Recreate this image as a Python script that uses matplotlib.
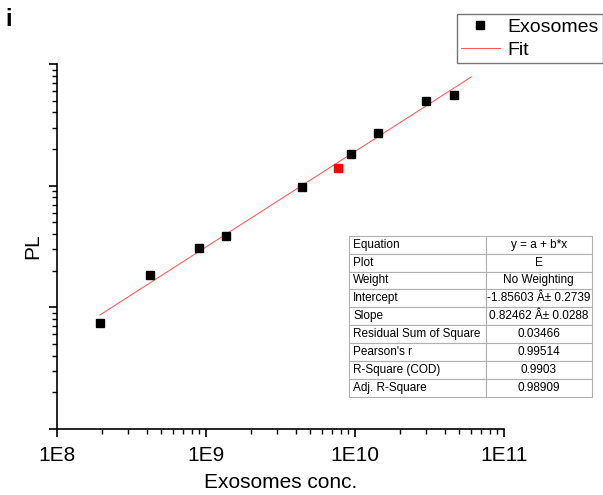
import numpy as np
import matplotlib.pyplot as plt
from matplotlib.ticker import LogLocator, NullFormatter

plt.rcParams['font.family'] = ['Liberation Sans', 'DejaVu Sans']

# measured samples (black) and the unknown sample (red)
conc = [1.93e8, 4.2e8, 8.9e8, 1.35e9, 4.4e9, 9.3e9, 1.43e10, 3.0e10, 4.6e10]
pl = [7.4e4, 1.84e5, 3.09e5, 3.83e5, 9.7e5, 1.81e6, 2.69e6, 4.95e6, 5.58e6]
unknown_conc = [7.65e9]
unknown_pl = [1.40e6]
fit_end = 6.0e10

xticks = [1e8, 1e9, 1e10, 1e11]
xticklabels = ['1E8', '1E9', '1E10', '1E11']

table_rows = [
    ['Equation', 'y = a + b*x'],
    ['Plot', 'E'],
    ['Weight', 'No Weighting'],
    ['Intercept', '-1.85603 Â± 0.2739'],
    ['Slope', '0.82462 Â± 0.0288'],
    ['Residual Sum of Square', '0.03466'],
    ["Pearson's r", '0.99514'],
    ['R-Square (COD)', '0.9903'],
    ['Adj. R-Square', '0.98909'],
]

fig = plt.figure(figsize=(6.03, 4.95), dpi=100)
ax = fig.add_axes([57.3 / 603, 66 / 495, 447 / 603, 365 / 495])
ax.set_xscale('log')
ax.set_yscale('log')
ax.set_xlim(1e8, 1e11)
ax.set_ylim(1e4, 1e7)

# linear fit in log-log space (black points only)
b, a = np.polyfit(np.log10(conc), np.log10(pl), 1)
xf = np.logspace(np.log10(conc[0]), np.log10(fit_end), 50)
fit_line, = ax.plot(xf, 10 ** (a + b * np.log10(xf)), color='#ff5a5a', lw=0.75, zorder=2)
pts, = ax.plot(conc, pl, 's', color='black', ms=6, zorder=3)
ax.plot(unknown_conc, unknown_pl, 's', color='red', ms=6, zorder=3)

for s in ['top', 'right']:
    ax.spines[s].set_visible(False)
for s in ['left', 'bottom']:
    ax.spines[s].set_linewidth(1.2)

ax.set_xticks(xticks)
ax.set_xticklabels(xticklabels)
ax.xaxis.set_minor_locator(LogLocator(base=10, subs=np.arange(2, 10)))
ax.xaxis.set_minor_formatter(NullFormatter())
ax.yaxis.set_major_locator(LogLocator(base=10))
ax.yaxis.set_minor_locator(LogLocator(base=10, subs=np.arange(2, 10)))
ax.yaxis.set_major_formatter(NullFormatter())
ax.yaxis.set_minor_formatter(NullFormatter())
ax.tick_params(which='major', direction='out', length=6, width=1.2, labelsize=15, pad=6)
ax.tick_params(which='minor', direction='out', length=3.5, width=1)

ax.set_xlabel('Exosomes conc.', fontsize=15, labelpad=6)
ax.set_ylabel('PL', fontsize=15, labelpad=-1)

leg = fig.legend([pts, fit_line], ['Exosomes', 'Fit'], loc='upper left',
                 bbox_to_anchor=(457 / 603, 1 - 14 / 495),
                 fontsize=14, frameon=True, fancybox=False, borderpad=0.2,
                 handlelength=2.0, handletextpad=0.4, labelspacing=0.3,
                 borderaxespad=0)
leg.get_frame().set_edgecolor('#555555')
leg.get_frame().set_linewidth(1)

# fit results table
tbl = ax.table(cellText=table_rows, colWidths=[0.305, 0.237],
               bbox=[0.653, 0.0877, 0.5425, 0.4419])
tbl.auto_set_font_size(False)
tbl.set_fontsize(8.5)
for (r, c), cell in tbl.get_celld().items():
    cell.set_edgecolor('#b0b0b0')
    cell.set_linewidth(0.8)
    cell.set_text_props(ha='left' if c == 0 else 'center')
    if c == 0:
        cell.PAD = 0.03
tbl.set_clip_on(False)

fig.text(5 / 603, 1 - 26 / 495, 'i', fontsize=17, fontweight='bold')

fig.savefig('out.png', dpi=100)
